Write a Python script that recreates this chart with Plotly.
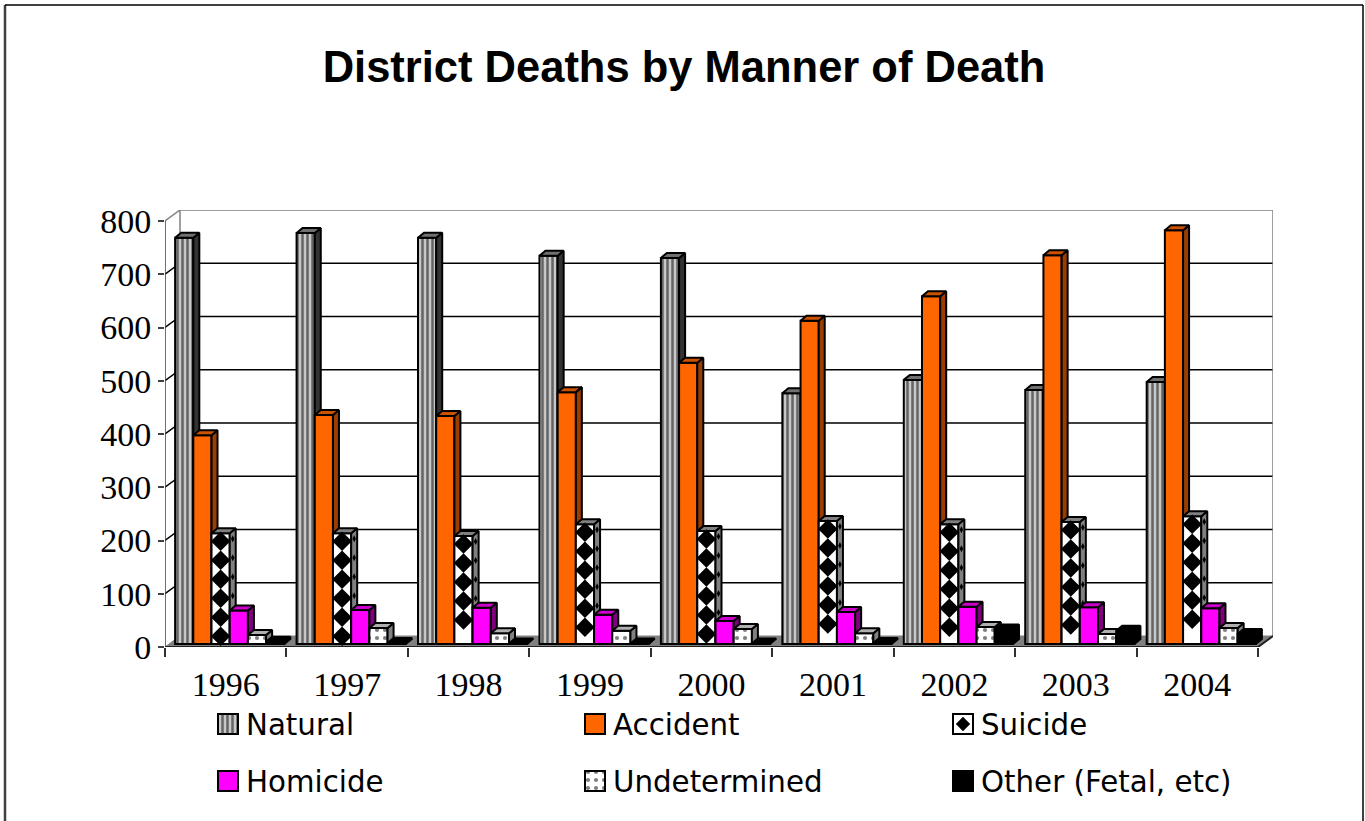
import plotly.graph_objects as go
import numpy as np

YEARS = ["1996", "1997", "1998", "1999", "2000", "2001", "2002", "2003", "2004"]
NATURAL = [763, 772, 763, 729, 725, 471, 496, 477, 492]
ACCIDENT = [392, 430, 428, 473, 528, 607, 653, 730, 777]
SUICIDE = [208, 208, 203, 225, 212, 231, 225, 229, 240]
HOMICIDE = [63, 64, 68, 55, 43, 60, 70, 69, 67]
UNDETERMINED = [17, 30, 20, 25, 28, 20, 32, 19, 30]
OTHER = [4, 2, 1, 1, 1, 2, 27, 25, 19]
Y_TICKS = [0, 100, 200, 300, 400, 500, 600, 700, 800]
TITLE = "District Deaths by Manner of Death"

W, H = 1365, 821
X_FRONT, X_END, X_WALL_END = 165, 1258, 1273
Y_ZERO, Y_800, Y_TOP = 647, 221, 210
CAT = (X_END - X_FRONT) / len(YEARS)
PXU = (Y_ZERO - Y_800) / 800
WALL_DX, WALL_DY = (X_WALL_END - X_END) / CAT, (Y_ZERO - 636) / PXU
BAR_W = 18.2 / CAT
DEPTH_X, DEPTH_Y = 6 / CAT, 5 / PXU
SHIFT_X, SHIFT_Y = 4 / CAT, 3 / PXU

base_x = [-0.5, -0.5 + (X_WALL_END - X_FRONT) / CAT]
base_y = [0, (Y_ZERO - Y_TOP) / PXU]
dom_x = [X_FRONT / W, X_WALL_END / W]
dom_y = [1 - Y_ZERO / H, 1 - Y_TOP / H]

SERIES = [
    dict(name="Natural", v=NATURAL, color="#c0c0c0", top="#707070", side="#333333",
         pattern=dict(shape="|", size=5, solidity=0.5, fgcolor="#000000", bgcolor="#c8c8c8")),
    dict(name="Accident", v=ACCIDENT, color="#ff6600", top="#cc5200", side="#993d00", pattern=None),
    dict(name="Suicide", v=SUICIDE, color="#ffffff", top="#808080", side="#808080", pattern=None),
    dict(name="Homicide", v=HOMICIDE, color="#ff00ff", top="#cc00cc", side="#800080", pattern=None),
    dict(name="Undetermined", v=UNDETERMINED, color="#ffffff", top="#b0b0b0", side="#808080",
         pattern=dict(shape=".", size=8, solidity=0.22, fgcolor="#000000", bgcolor="#ffffff")),
    dict(name="Other (Fetal, etc)", v=OTHER, color="#000000", top="#000000", side="#000000", pattern=None),
]

fig = go.Figure()

# walls and floor (base axes)
x_l, x_r = -0.5, -0.5 + len(YEARS)
fig.add_trace(go.Scatter(x=[x_l, x_l + WALL_DX, x_r + WALL_DX, x_r, x_l], y=[0, WALL_DY, WALL_DY, 0, 0],
                         fill="toself", fillcolor="#808080", mode="lines", line=dict(color="#808080", width=1),
                         hoverinfo="skip", showlegend=False))
for t in Y_TICKS[1:]:
    c = "#808080" if t == 800 else "#000000"
    fig.add_trace(go.Scatter(x=[x_l, x_l + WALL_DX, x_r + WALL_DX], y=[t, t + WALL_DY, t + WALL_DY],
                             mode="lines", line=dict(color=c, width=1.5), hoverinfo="skip", showlegend=False))
for xv in (x_l + WALL_DX, x_r + WALL_DX):
    fig.add_trace(go.Scatter(x=[xv, xv], y=[WALL_DY, 800 + WALL_DY], mode="lines",
                             line=dict(color="#808080", width=1.5), hoverinfo="skip", showlegend=False))
fig.add_trace(go.Scatter(x=[x_l, x_l], y=[0, 800], mode="lines", line=dict(color="#404040", width=1.5),
                         hoverinfo="skip", showlegend=False))
fig.add_trace(go.Scatter(x=[x_l, x_r, x_r + WALL_DX], y=[0, 0, WALL_DY], mode="lines",
                         line=dict(color="#202020", width=2), hoverinfo="skip", showlegend=False))

# one overlay pair of axes per series so that each bar hides the side of the one before it
layout_axes = {}
DIAMOND_STEP = 19 / PXU
for s, ser in enumerate(SERIES):
    n = s + 2
    ax, ay = f"x{n}", f"y{n}"
    layout_axes[f"xaxis{n}"] = dict(domain=dom_x, range=[base_x[0] - SHIFT_X, base_x[1] - SHIFT_X],
                                    overlaying="x", anchor=ay, visible=False, fixedrange=True)
    layout_axes[f"yaxis{n}"] = dict(domain=dom_y, range=[base_y[0] - SHIFT_Y, base_y[1] - SHIFT_Y],
                                    overlaying="y", anchor=ax, visible=False, fixedrange=True)
    xc = [i + (s - 2.5) * BAR_W for i in range(len(YEARS))]
    marker = dict(color=ser["color"], line=dict(color="#000000", width=2))
    if ser["pattern"]:
        marker["pattern"] = ser["pattern"]
    fig.add_trace(go.Bar(x=xc, y=ser["v"], width=BAR_W, marker=marker, xaxis=ax, yaxis=ay, name=ser["name"],
                         cliponaxis=False, showlegend=False))
    side_x, side_y, top_x, top_y = [], [], [], []
    for c, v in zip(xc, ser["v"]):
        l, r = c - BAR_W / 2, c + BAR_W / 2
        side_x += [r, r + DEPTH_X, r + DEPTH_X, r, r, None]
        side_y += [0, DEPTH_Y, v + DEPTH_Y, v, 0, None]
        top_x += [l, l + DEPTH_X, r + DEPTH_X, r, l, None]
        top_y += [v, v + DEPTH_Y, v + DEPTH_Y, v, v, None]
    for px, py, col in ((side_x, side_y, ser["side"]), (top_x, top_y, ser["top"])):
        fig.add_trace(go.Scatter(x=px, y=py, mode="lines", fill="toself", fillcolor=col,
                                 line=dict(color="#000000", width=2), xaxis=ax, yaxis=ay, cliponaxis=False,
                                 hoverinfo="skip", showlegend=False))
    if ser["name"] == "Suicide":
        dx, dy, sx = [], [], []
        for c, v in zip(xc, ser["v"]):
            for h in np.arange(v - 8 / PXU, 7 / PXU, -DIAMOND_STEP):
                dx.append(c); dy.append(h); sx.append(c + BAR_W / 2 + DEPTH_X / 2)
        fig.add_trace(go.Scatter(x=dx, y=dy, mode="markers", marker=dict(symbol="diamond", size=15, color="#000000"),
                                 xaxis=ax, yaxis=ay, cliponaxis=False, hoverinfo="skip", showlegend=False))
        fig.add_trace(go.Scatter(x=sx, y=[h + DEPTH_Y / 2 for h in dy], mode="markers",
                                 marker=dict(symbol="diamond-tall", size=5, color="#000000"),
                                 xaxis=ax, yaxis=ay, cliponaxis=False, hoverinfo="skip", showlegend=False))

# legend drawn on its own full-page pixel axes, so the swatches can keep the original size
LEG_COL = [218, 585, 953]
LEG_ROW = [724, 781]
SWATCH = 20
layout_axes["xaxis8"] = dict(domain=[0, 1], range=[0, W], anchor="y8", visible=False, fixedrange=True)
layout_axes["yaxis8"] = dict(domain=[0, 1], range=[H, 0], anchor="x8", visible=False, fixedrange=True)
annotations = []
for s, ser in enumerate(SERIES):
    lx = LEG_COL[s % 3]
    ly = LEG_ROW[s // 3]
    marker = dict(color=ser["color"], line=dict(color="#000000", width=2))
    if ser["pattern"]:
        marker["pattern"] = ser["pattern"]
    fig.add_trace(go.Bar(x=[lx + SWATCH / 2], y=[SWATCH], base=[ly - SWATCH / 2], width=SWATCH, marker=marker,
                         xaxis="x8", yaxis="y8", hoverinfo="skip", showlegend=False, cliponaxis=False))
    if ser["name"] == "Suicide":
        fig.add_trace(go.Scatter(x=[lx + SWATCH / 2], y=[ly], mode="markers",
                                 marker=dict(symbol="diamond", size=11, color="#000000"),
                                 xaxis="x8", yaxis="y8", hoverinfo="skip", showlegend=False))
    annotations.append(dict(x=lx + 25.5, y=ly + 1, xref="x8", yref="y8", text=ser["name"], showarrow=False,
                            xanchor="left", yanchor="middle",
                            font=dict(family="DejaVu Sans", size=29.3, color="#000000")))

fig.update_layout(
    width=W, height=H, margin=dict(l=0, r=0, t=0, b=0, autoexpand=False),
    paper_bgcolor="#ffffff", plot_bgcolor="rgba(0,0,0,0)", barmode="overlay", showlegend=False,
    title=dict(text=f"<b>{TITLE}</b>", x=684 / W, xanchor="center", y=1 - 67 / H, yanchor="middle",
               font=dict(family="Liberation Sans", size=43.5, color="#000000")),
    xaxis=dict(domain=dom_x, range=base_x, showgrid=False, zeroline=False, showline=False, fixedrange=True,
               tickmode="array", tickvals=list(range(len(YEARS))), ticktext=YEARS, ticks="outside",
               ticklen=7, tickcolor="rgba(0,0,0,0)", tickfont=dict(family="Liberation Serif", size=34, color="#000000"),
               minor=dict(tickmode="array", tickvals=[i - 0.5 for i in range(len(YEARS) + 1)], ticks="outside",
                          ticklen=9, tickwidth=1.5, tickcolor="#303030", showgrid=False)),
    yaxis=dict(domain=dom_y, range=base_y, showgrid=False, zeroline=False, showline=False, fixedrange=True,
               tickmode="array", tickvals=Y_TICKS, ticks="outside", ticklen=6, tickwidth=1.5, tickcolor="#404040",
               tickfont=dict(family="Liberation Serif", size=34, color="#000000")),
    shapes=[
        dict(type="line", xref="paper", yref="paper", x0=5 / W, x1=5 / W, y0=0, y1=1 - 5 / H,
             line=dict(color="#404040", width=2.5), layer="below"),
        dict(type="line", xref="paper", yref="paper", x0=5 / W, x1=1363 / W, y0=1 - 5 / H, y1=1 - 5 / H,
             line=dict(color="#000000", width=1.5), layer="below"),
        dict(type="line", xref="paper", yref="paper", x0=1363 / W, x1=1363 / W, y0=0, y1=1 - 5 / H,
             line=dict(color="#000000", width=1.5), layer="below"),
    ],
    annotations=annotations,
    **layout_axes,
)

fig.write_html("out.html", config={"displayModeBar": False},
               post_script="document.body.style.margin='0';document.body.style.overflow='hidden';")
